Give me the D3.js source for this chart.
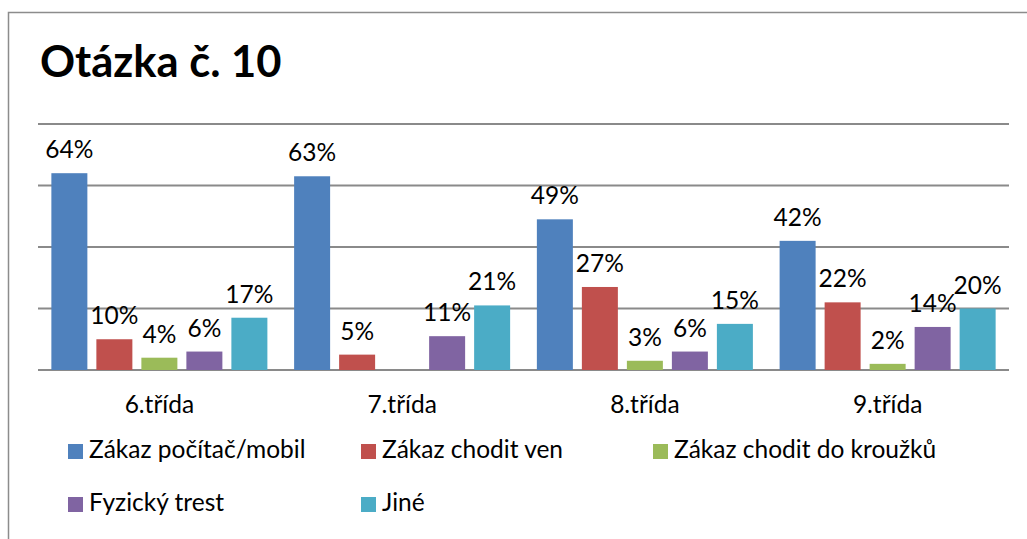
<!DOCTYPE html>
<html>
<head>
<meta charset="utf-8">
<script src="https://cdn.jsdelivr.net/npm/d3@7"></script>
<style>
  html, body { margin: 0; padding: 0; background: #fff; }
  svg { display: block; font-family: Lato, "Open Sans", sans-serif; }
</style>
</head>
<body>
<div id="chart"></div>
<script>
// data
const categories = ['6.třída', '7.třída', '8.třída', '9.třída'];
const seriesNames = ['Zákaz počítač/mobil', 'Zákaz chodit ven', 'Zákaz chodit do kroužků', 'Fyzický trest', 'Jiné'];
const seriesColors = ['#4F81BD', '#C0504D', '#9BBB59', '#8064A2', '#4BACC6'];
// values per category, in series order (null = no answer)
const valPocitac = [64, 63, 49, 42];
const valVen = [10, 5, 27, 22];
const valKrouzky = [4, null, 3, 2];
const valTrest = [6, 11, 6, 14];
const valJine = [17, 21, 15, 20];
const yTicks = [0, 20, 40, 60, 80];

const seriesValues = [valPocitac, valVen, valKrouzky, valTrest, valJine];

const W = 1027, H = 539;
const svg = d3.select('#chart').append('svg')
  .attr('width', W)
  .attr('height', H);

// pozadi a ramecek grafu
svg.append('rect').attr('width', W).attr('height', H).attr('fill', '#fff');
svg.append('rect')
  .attr('x', 8.5).attr('y', 12.5)
  .attr('width', W + 20).attr('height', H + 20)
  .attr('fill', 'none')
  .attr('stroke', '#8c8c8c')
  .attr('stroke-width', 1.5);

// nadpis
svg.append('text')
  .attr('x', 40).attr('y', 77)
  .attr('font-size', 43.5)
  .attr('font-weight', 700)
  .attr('fill', '#000')
  .text('Otázka č. 10');

// meritka
const plotLeft = 38, plotRight = 1009, plotTop = 124, plotBottom = 370;
const x = d3.scaleBand().domain(categories).range([plotLeft, plotRight]);
const xInner = d3.scaleBand()
  .domain(d3.range(seriesNames.length))
  .range([0, x.bandwidth()])
  .paddingInner(0.2)
  .paddingOuter(0.297);
const y = d3.scaleLinear().domain([0, 80]).range([plotBottom, plotTop]);

// mrizka
svg.append('g').selectAll('line')
  .data(yTicks)
  .join('line')
  .attr('x1', plotLeft).attr('x2', plotRight)
  .attr('y1', d => y(d)).attr('y2', d => y(d))
  .attr('stroke', '#8a8a8a')
  .attr('stroke-width', 2);

// sloupce
const rows = [];
categories.forEach((c, ci) => {
  seriesValues.forEach((vals, si) => {
    if (vals[ci] != null) rows.push({ cat: c, s: si, v: vals[ci] });
  });
});

const barsG = svg.append('g');
barsG.selectAll('rect')
  .data(rows)
  .join('rect')
  .attr('x', d => x(d.cat) + xInner(d.s))
  .attr('y', d => y(d.v))
  .attr('width', xInner.bandwidth())
  .attr('height', d => plotBottom - y(d.v))
  .attr('fill', d => seriesColors[d.s]);

// popisky hodnot
barsG.selectAll('text')
  .data(rows)
  .join('text')
  .attr('x', d => x(d.cat) + xInner(d.s) + xInner.bandwidth() / 2)
  .attr('y', d => y(d.v) - 15)
  .attr('text-anchor', 'middle')
  .attr('font-size', 24.5)
  .attr('fill', '#000')
  .text(d => d.v + '%');

// popisky kategorii
svg.append('g').selectAll('text')
  .data(categories)
  .join('text')
  .attr('x', d => x(d) + x.bandwidth() / 2)
  .attr('y', 413)
  .attr('text-anchor', 'middle')
  .attr('font-size', 24.5)
  .attr('fill', '#000')
  .text(d => d);

// legenda
const legendCols = [68, 361, 653];
const legendRows = [444, 497];
const legend = svg.append('g').selectAll('g')
  .data(seriesNames)
  .join('g')
  .attr('transform', (d, i) => `translate(${legendCols[i % 3]}, ${legendRows[Math.floor(i / 3)]})`);
legend.append('rect')
  .attr('width', 15).attr('height', 15)
  .attr('fill', (d, i) => seriesColors[i]);
legend.append('text')
  .attr('x', 21).attr('y', 14)
  .attr('font-size', 24.5)
  .attr('fill', '#000')
  .text(d => d);
</script>
</body>
</html>
